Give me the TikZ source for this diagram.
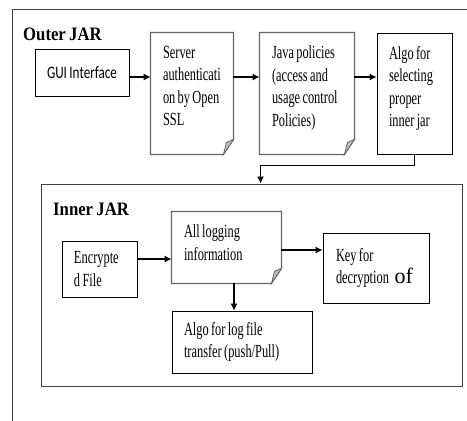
\documentclass[tikz,border=0pt]{standalone}
\usepackage{fontspec}
\setmainfont[FakeStretch=0.67,WordSpace=0.75]{Liberation Serif}
\newfontfamily\guifont[FakeStretch=0.75,WordSpace=0.8]{Carlito}
\newfontfamily\titlefont[FakeStretch=0.88,WordSpace=0.8]{Liberation Serif}
\newfontfamily\plainserif{Liberation Serif}
\usetikzlibrary{arrows.meta,calc}

\hyphenpenalty=10000
\exhyphenpenalty=10000

\newcommand{\bodysize}{\fontsize{18.5}{22.5}\selectfont}
% text box that starts at the top of the node
\newcommand{\toptext}[3]{\parbox[c][#1][t]{#2}{\raggedright #3}}
% text box centred in the node
\newcommand{\midtext}[2]{\parbox{#1}{\raggedright #2}}
% page outline with a folded corner, drawn round a named node
\newcommand{\docframe}[1]{%
  \draw[docline] ([yshift=15pt]#1.south east) -- (#1.north east) -- (#1.north west)
      -- (#1.south west) -- ([xshift=-10pt]#1.south east) -- cycle;
  \filldraw[docfold] ([yshift=15pt]#1.south east) -- ([xshift=-7pt,yshift=12pt]#1.south east)
      -- ([xshift=-10pt]#1.south east) -- cycle;}

\begin{document}
\begin{tikzpicture}[
    x=1pt, y=-1pt,
    % general settings
    >={Latex[length=7pt,width=7pt]},
    % nodes
    base/.style={rectangle, inner xsep=12pt, inner ysep=0pt, line width=0.9pt, font=\bodysize},
    plain/.style={base, draw=black},
    gui/.style={plain, font=\guifont\fontsize{17.5}{20}\selectfont},
    doc/.style={base, inner ysep=13pt},
    title/.style={font=\titlefont\bfseries\fontsize{19}{22}\selectfont, inner sep=0pt, anchor=base west},
    % outlines
    jarframe/.style={draw=black!75, line width=0.9pt},
    docline/.style={draw=black!60, line width=1.2pt},
    docfold/.style={fill=black!25, draw=black!60, line width=0.8pt},
    % arrows
    arr/.style={->, black, line width=1.1pt},
  ]

  \useasboundingbox (0,0) rectangle (467,421);

  % outer jar, runs off the page at right and bottom
  \draw[jarframe] (12,421) |- (467,9);
  \node (outerlbl) [title] at (23,40) {Outer JAR};

  \node (gui)      [gui, minimum width=92pt, minimum height=47pt]   at (82,72.5)    {GUI Interface};
  \node (srv)      [doc]                                            at (192,93.5)   {\toptext{95pt}{58pt}{Server\\authenticati\\on by Open\\SSL}};
  \node (java)     [doc]                                            at (307,93.5)   {\toptext{95pt}{70pt}{Java policies\\(access and\\usage control\\Policies)}};
  \node (algosel)  [plain, inner ysep=13pt]                         at (414.5,93.5) {\toptext{95pt}{51pt}{Algo for\\selecting\\proper\\inner jar}};
  \docframe{srv}
  \docframe{java}

  % inner jar
  \node (inner)    [base, jarframe, minimum width=421pt, minimum height=202pt] at (251.5,285) {};
  \node (innerlbl) [title] at (53,215) {Inner JAR};

  \node (enc)      [plain, minimum height=56pt]                     at (99.5,269)   {\midtext{51pt}{Encrypte\\d File}};
  \node (allog)    [doc]                                            at (226.5,247.5) {\toptext{45pt}{85pt}{All logging\\information}};
  \node (key)      [plain, inner xsep=13pt, minimum height=70pt]    at (376,268)
                   {\midtext{80pt}{Key for\\decryption{\plainserif\fontsize{22}{22.5}\selectfont{} of}}};
  \node (algolog)  [plain, minimum height=62pt]                     at (242,342)    {\midtext{116pt}{Algo for log file\\transfer (push/Pull)}};
  \docframe{allog}

  % arrow start points
  \coordinate (guiout)  at ([yshift=-4.5pt]gui.east);
  \coordinate (srvout)  at ([yshift=16.5pt]srv.east);
  \coordinate (javaout) at ([yshift=16.5pt]java.east);
  \coordinate (encout)  at ([yshift=10pt]enc.east);
  \coordinate (logout)  at ([yshift=-2.5pt]allog.east);
  \coordinate (logdown) at ([xshift=7.5pt]allog.south);
  % where the outer chain enters the inner jar
  \coordinate (innerin) at ([xshift=220pt]inner.north west);

  \draw[arr] (guiout)  -- (guiout -| srv.west);
  \draw[arr] (srvout)  -- (srvout -| java.west);
  \draw[arr] (javaout) -- (javaout -| algosel.west);
  \draw[arr] (algosel.south) -- ++(0,11) -| (innerin);

  \draw[arr] (encout)  -- (encout -| allog.west);
  \draw[arr] (logout)  -- (logout -| key.west);
  \draw[arr] (logdown) -- (logdown |- algolog.north);

\end{tikzpicture}
\end{document}
